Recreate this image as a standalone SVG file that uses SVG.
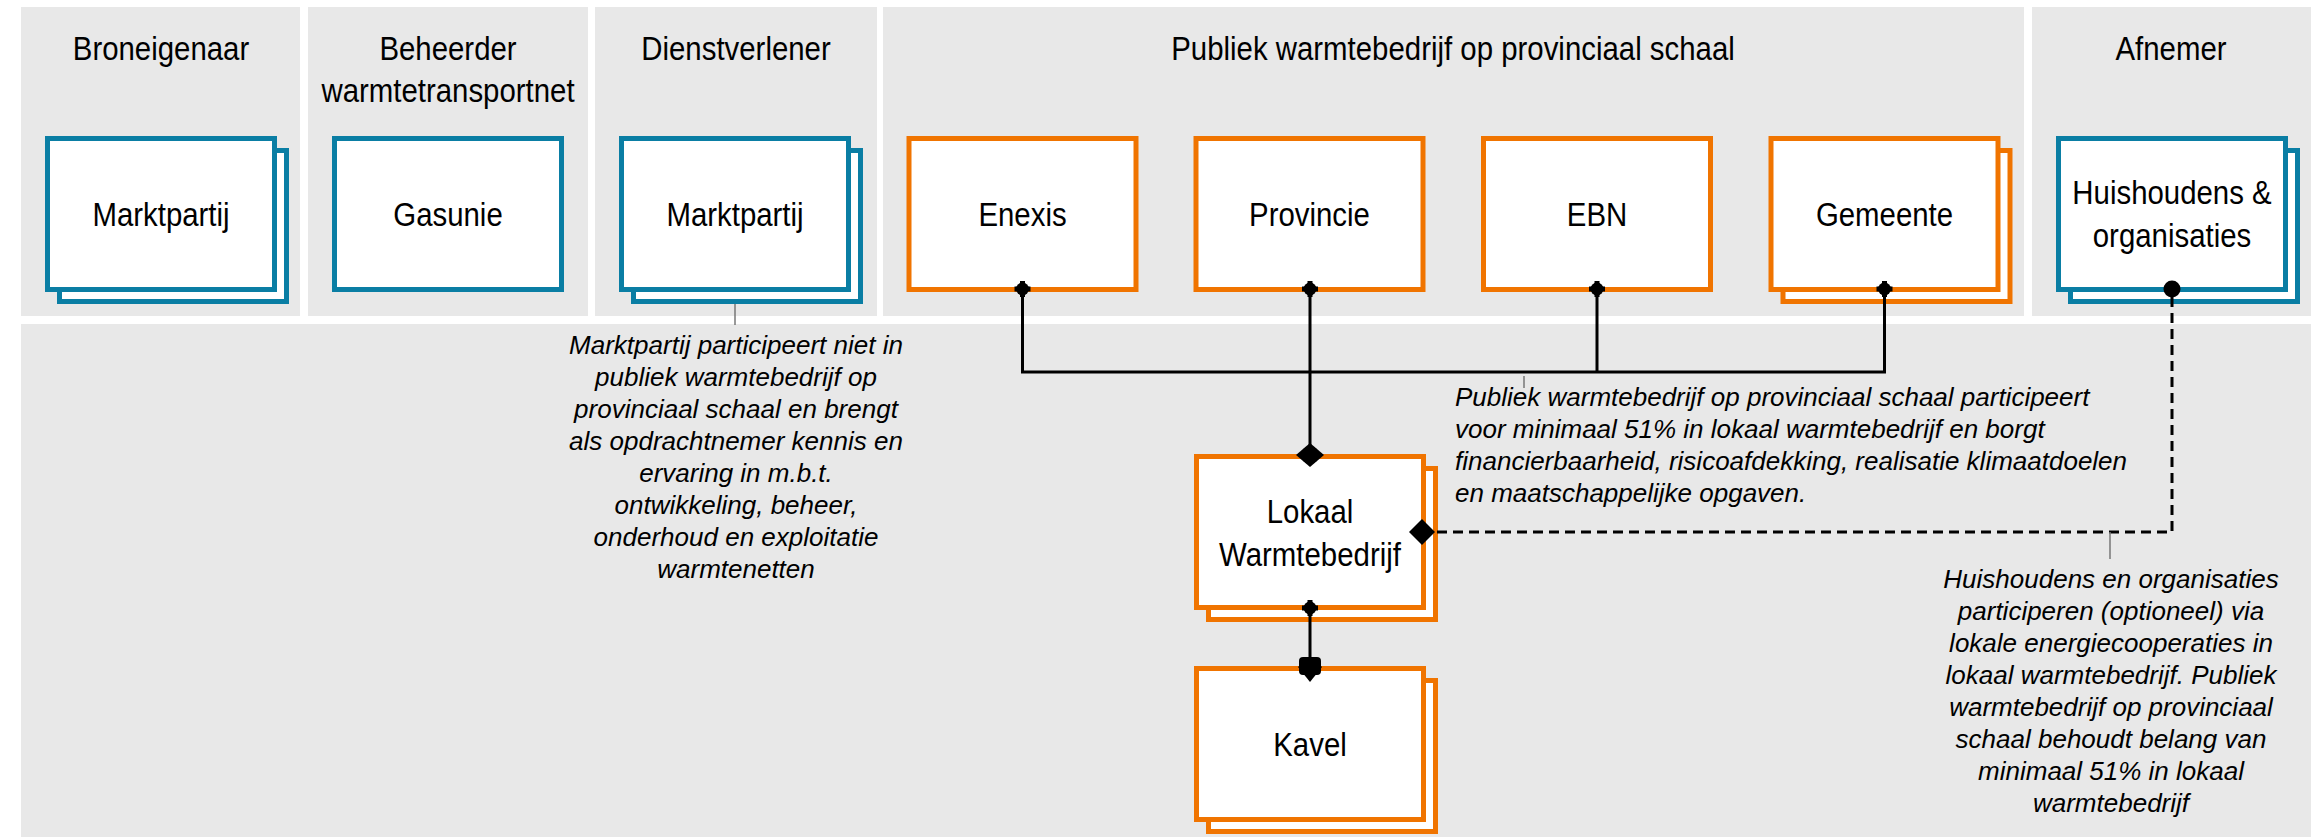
<svg xmlns="http://www.w3.org/2000/svg" width="2322" height="837" viewBox="0 0 2322 837">
<style>
.lane{fill:#e8e8e8}
.hd{font-family:"Liberation Sans",Arial,sans-serif;font-size:34px;fill:#000;text-anchor:middle}
.lb{font-family:"Liberation Sans",Arial,sans-serif;font-size:34px;fill:#000;text-anchor:middle}
.note{font-family:"Liberation Sans",Arial,sans-serif;font-size:26px;font-style:italic;fill:#000}
.c{text-anchor:middle}
.bt{fill:#fff;stroke:#0a7ea4;stroke-width:5}
.bo{fill:#fff;stroke:#f07400;stroke-width:5}
.ln{fill:none;stroke:#000;stroke-width:3}
.dash{fill:none;stroke:#000;stroke-width:3;stroke-dasharray:10 6}
.lead{fill:none;stroke:#777;stroke-width:1.5}
.dot{fill:#000}
</style>
<defs>
<g id="src">
<circle cx="0" cy="0" r="6.5"/>
<rect x="-8" y="-2.5" width="16" height="5"/>
<rect x="-2.5" y="-8" width="5" height="16"/>
</g>
</defs>
<rect width="2322" height="837" fill="#fff"/>
<g id="lanes">
<rect class="lane" x="21" y="7" width="279" height="309"/>
<rect class="lane" x="308" y="7" width="280" height="309"/>
<rect class="lane" x="595" y="7" width="282" height="309"/>
<rect class="lane" x="883" y="7" width="1141" height="309"/>
<rect class="lane" x="2032" y="7" width="279" height="309"/>
<rect class="lane" x="21" y="324" width="2290" height="513"/>
<text class="hd" transform="translate(161,60) scale(0.865,1)">Broneigenaar</text>
<text class="hd" transform="translate(448,60) scale(0.865,1)"><tspan x="0" y="0">Beheerder</tspan><tspan x="0" y="42">warmtetransportnet</tspan></text>
<text class="hd" transform="translate(736,60) scale(0.865,1)">Dienstverlener</text>
<text class="hd" transform="translate(1453,60) scale(0.865,1)">Publiek warmtebedrijf op provinciaal schaal</text>
<text class="hd" transform="translate(2171,60) scale(0.865,1)">Afnemer</text>
</g>
<g id="node-marktpartij-bron">
<rect class="bt" x="59.5" y="150.5" width="227" height="151"/>
<rect class="bt" x="47.5" y="138.5" width="227" height="151"/>
<text class="lb" transform="translate(161,226) scale(0.865,1)">Marktpartij</text>
</g>
<g id="node-gasunie">
<rect class="bt" x="334.5" y="138.5" width="227" height="151"/>
<text class="lb" transform="translate(448,226) scale(0.865,1)">Gasunie</text>
</g>
<g id="node-marktpartij-dienst">
<rect class="bt" x="633.5" y="150.5" width="227" height="151"/>
<rect class="bt" x="621.5" y="138.5" width="227" height="151"/>
<text class="lb" transform="translate(735,226) scale(0.865,1)">Marktpartij</text>
</g>
<g id="node-enexis">
<rect class="bo" x="909" y="138.5" width="227" height="151"/>
<text class="lb" transform="translate(1022.5,226) scale(0.865,1)">Enexis</text>
</g>
<g id="node-provincie">
<rect class="bo" x="1196" y="138.5" width="227" height="151"/>
<text class="lb" transform="translate(1309.5,226) scale(0.865,1)">Provincie</text>
</g>
<g id="node-ebn">
<rect class="bo" x="1483.5" y="138.5" width="227" height="151"/>
<text class="lb" transform="translate(1597,226) scale(0.865,1)">EBN</text>
</g>
<g id="node-gemeente">
<rect class="bo" x="1783" y="150.5" width="227" height="151"/>
<rect class="bo" x="1771" y="138.5" width="227" height="151"/>
<text class="lb" transform="translate(1884.5,226) scale(0.865,1)">Gemeente</text>
</g>
<g id="node-huishoudens">
<rect class="bt" x="2070.5" y="150.5" width="227" height="151"/>
<rect class="bt" x="2058.5" y="138.5" width="227" height="151"/>
<text class="lb" transform="translate(2172,204) scale(0.865,1)"><tspan x="0" y="0">Huishoudens &amp;</tspan><tspan x="0" y="43">organisaties</tspan></text>
</g>
<g id="node-lokaal">
<rect class="bo" x="1208.5" y="468.5" width="227" height="151"/>
<rect class="bo" x="1196.5" y="456.5" width="227" height="151"/>
<text class="lb" transform="translate(1310,523) scale(0.865,1)"><tspan x="0" y="0">Lokaal</tspan><tspan x="0" y="43">Warmtebedrijf</tspan></text>
</g>
<g id="node-kavel">
<rect class="bo" x="1208.5" y="680.5" width="227" height="151"/>
<rect class="bo" x="1196.5" y="668.5" width="227" height="151"/>
<text class="lb" transform="translate(1310,756) scale(0.865,1)">Kavel</text>
</g>
<g id="connectors">
<path class="ln" d="M1022.5,289 V372 H1884.5 V289"/>
<path class="ln" d="M1597,289 V372"/>
<path class="ln" d="M1310,289 V452"/>
<path class="ln" d="M1310,608 V662"/>
<path class="dash" d="M2172,297 V532 H1432"/>
<use href="#src" class="dot" x="1022.5" y="289"/>
<use href="#src" class="dot" x="1310" y="289"/>
<use href="#src" class="dot" x="1597" y="289"/>
<use href="#src" class="dot" x="1884.5" y="289"/>
<use href="#src" class="dot" x="1310" y="608"/>
<circle class="dot" cx="2172" cy="289" r="8.5"/>
<polygon class="dot" points="1310,443 1324,455 1310,467 1296,455"/>
<circle class="dot" cx="1310" cy="455" r="9"/>
<polygon class="dot" points="1310,656 1322,667 1310,682 1298,667"/>
<rect class="dot" x="1299" y="657" width="22" height="18" rx="4"/>
<polygon class="dot" points="1422,519 1435,532 1422,545 1409,532"/>
<path class="lead" d="M735,304 V325"/>
<path class="lead" d="M1524,376 V388"/>
<path class="lead" d="M2110,532 V559"/>
</g>
<g id="notes">
<text class="note c" x="736" y="354"><tspan x="736" y="354">Marktpartij participeert niet in</tspan><tspan x="736" y="386">publiek warmtebedrijf op</tspan><tspan x="736" y="418">provinciaal schaal en brengt</tspan><tspan x="736" y="450">als opdrachtnemer kennis en</tspan><tspan x="736" y="482">ervaring in m.b.t.</tspan><tspan x="736" y="514">ontwikkeling, beheer,</tspan><tspan x="736" y="546">onderhoud en exploitatie</tspan><tspan x="736" y="578">warmtenetten</tspan></text>
<text class="note" x="1455" y="406"><tspan x="1455" y="406">Publiek warmtebedrijf op provinciaal schaal participeert</tspan><tspan x="1455" y="438">voor minimaal 51% in lokaal warmtebedrijf en borgt</tspan><tspan x="1455" y="470">financierbaarheid, risicoafdekking, realisatie klimaatdoelen</tspan><tspan x="1455" y="502">en maatschappelijke opgaven.</tspan></text>
<text class="note c" x="2111" y="588"><tspan x="2111" y="588">Huishoudens en organisaties</tspan><tspan x="2111" y="620">participeren (optioneel) via</tspan><tspan x="2111" y="652">lokale energiecooperaties in</tspan><tspan x="2111" y="684">lokaal warmtebedrijf. Publiek</tspan><tspan x="2111" y="716">warmtebedrijf op provinciaal</tspan><tspan x="2111" y="748">schaal behoudt belang van</tspan><tspan x="2111" y="780">minimaal 51% in lokaal</tspan><tspan x="2111" y="812">warmtebedrijf</tspan></text>
</g>
</svg>
